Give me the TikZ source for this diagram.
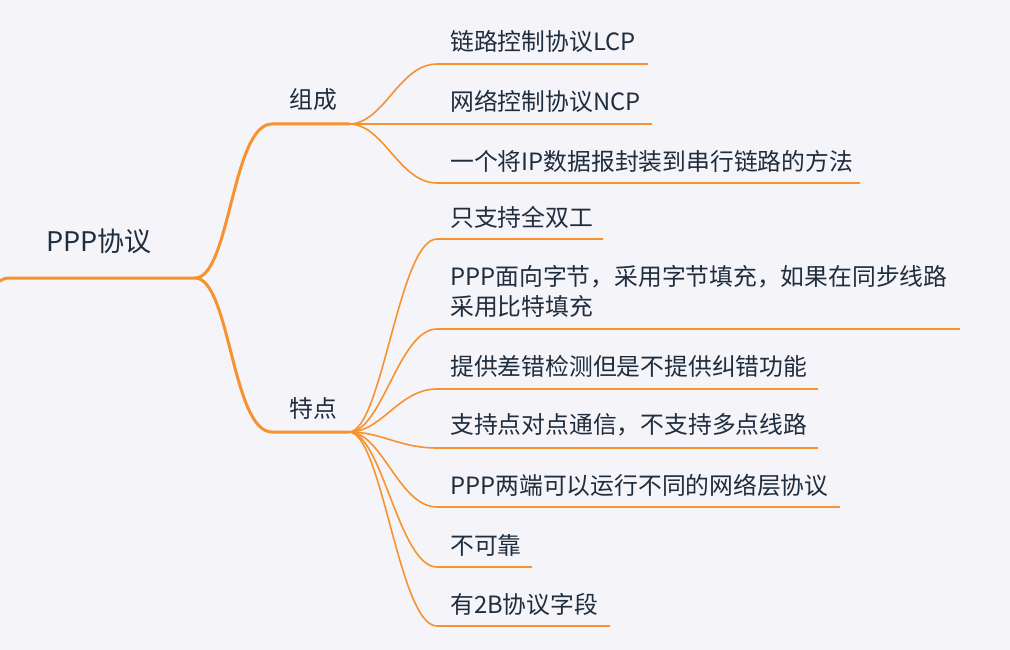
\documentclass[tikz,border=0pt]{standalone}
\usepackage{fontspec}
\setmainfont{Noto Sans CJK SC}
\definecolor{bgc}{HTML}{F4F4F9}
\definecolor{org}{HTML}{F7932F}
\definecolor{txt}{HTML}{1F2D3D}
\begin{document}
\begin{tikzpicture}[x=1pt,y=-1pt,
  leaftext/.style={anchor=west, inner sep=0pt, text=txt, font=\fontsize{23.8}{30}\selectfont},
  roottext/.style={anchor=west, inner sep=0pt, text=txt, font=\fontsize{27}{32}\selectfont},
  leafline/.style={draw=org, line width=1.6pt},
  branchline/.style={draw=org, line width=3pt, line cap=round}]
\fill[bgc] (0,0) rectangle (1010,650);
\useasboundingbox (0,0) rectangle (1010,650);

% texts
\node[roottext] (root) at (46,241) {PPP协议};
\node[leaftext] (b1) at (289,100) {组成};
\node[leaftext] (b2) at (289,408) {特点};
\node[leaftext] (l1) at (450,42) {链路控制协议LCP};
\node[leaftext] (l2) at (450,101) {网络控制协议NCP};
\node[leaftext] (l3) at (450,161) {一个将IP数据报封装到串行链路的方法};
\node[leaftext] (m1) at (450,217) {只支持全双工};
\node[leaftext, align=left] (m2) at (450,291) {PPP面向字节，采用字节填充，如果在同步线路\\采用比特填充};
\node[leaftext] (m3) at (450,366) {提供差错检测但是不提供纠错功能};
\node[leaftext] (m4) at (450,425) {支持点对点通信，不支持多点线路};
\node[leaftext] (m5) at (450,485) {PPP两端可以运行不同的网络层协议};
\node[leaftext] (m6) at (450,545) {不可靠};
\node[leaftext] (m7) at (450,604) {有2B协议字段};

% coordinates
\coordinate (r0) at (0,281);
\coordinate (rj) at (195,278);
\coordinate (b1s) at (272,124);
\coordinate (b1j) at (349,124);
\coordinate (b2s) at (272,432);
\coordinate (b2j) at (349,432);

\coordinate (l1s) at (437,64);  \coordinate (l1e) at (648,64);
\coordinate (l2s) at (437,124); \coordinate (l2e) at (652,124);
\coordinate (l3s) at (437,183); \coordinate (l3e) at (860,183);
\coordinate (m1s) at (437,239); \coordinate (m1e) at (603,239);
\coordinate (m2s) at (437,329); \coordinate (m2e) at (960,329);
\coordinate (m3s) at (437,389); \coordinate (m3e) at (818,389);
\coordinate (m4s) at (437,448); \coordinate (m4e) at (818,448);
\coordinate (m5s) at (437,507); \coordinate (m5e) at (840,507);
\coordinate (m6s) at (437,567); \coordinate (m6e) at (532,567);
\coordinate (m7s) at (437,626); \coordinate (m7e) at (610,626);

% root and branches
\draw[branchline, line cap=butt] (r0) .. controls (5,278) .. (14,278) -- (rj);
\draw[branchline] (rj) .. controls +(35,0) and +(-40,0) .. (b1s) -- (b1j);
\draw[branchline] (rj) .. controls +(35,0) and +(-40,0) .. (b2s) -- (b2j);

% leaves of 组成
\foreach \n in {l1,l2,l3}{
  \draw[leafline] (b1j) .. controls +(35,0) and +(-38,0) .. (\n s) -- (\n e);
}
% leaves of 特点
\foreach \n in {m1,m2,m3,m4,m5,m6,m7}{
  \draw[leafline] (b2j) .. controls +(33,0) and +(-38,0) .. (\n s) -- (\n e);
}
\end{tikzpicture}
\end{document}
